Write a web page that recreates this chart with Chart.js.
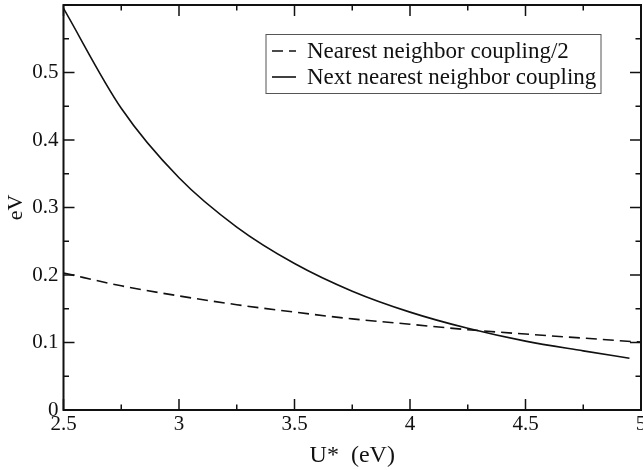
<!DOCTYPE html>
<html>
<head>
<meta charset="utf-8">
<script src="https://cdn.jsdelivr.net/npm/chart.js@4/dist/chart.umd.min.js"></script>
<style>
  html, body { margin: 0; padding: 0; background: #fff; overflow: hidden; }
  #wrap { width: 660px; height: 470px; position: relative; }
</style>
</head>
<body>
<div id="wrap"><canvas id="c"></canvas></div>
<script>
// ---- data ----
const nnU      = [2.5, 2.75, 3.0, 3.25, 3.5, 3.75, 4.0, 4.25, 4.5, 4.75, 5.0];
const nnValues = [0.203, 0.184, 0.169, 0.156, 0.145, 0.135, 0.127, 0.119, 0.1125, 0.1065, 0.1005];

const nnnU      = [2.5, 2.75, 3.0, 3.25, 3.5, 3.75, 4.0, 4.25, 4.5, 4.75, 4.95];
const nnnValues = [0.595, 0.447, 0.344, 0.271, 0.217, 0.176, 0.145, 0.121, 0.102, 0.0876, 0.0766];

const seriesLabels = ['Nearest neighbor coupling/2', 'Next nearest neighbor coupling'];
const xTickLabels = [2.5, 3, 3.5, 4, 4.5, 5];
const yTickLabels = [0, 0.1, 0.2, 0.3, 0.4, 0.5];
const xTitle = 'U*  (eV)';
const yTitle = 'eV';

const FONT = '"Liberation Serif", "Times New Roman", serif';

const framePlugin = {
  id: 'frame',
  afterDatasetsDraw(chart) {
    const ctx = chart.ctx;
    const { left, right, top, bottom } = chart.chartArea;
    const xs = chart.scales.x, ys = chart.scales.y;
    ctx.save();
    ctx.strokeStyle = '#111';
    ctx.lineWidth = 2;
    ctx.setLineDash([]);
    ctx.strokeRect(left, top, right - left, bottom - top);
    ctx.lineWidth = 1.5;
    // x ticks (major 0.5, minor 0.25)
    for (let i = 0; i <= 10; i++) {
      const v = xs.min + i * 0.25;
      const px = xs.getPixelForValue(v);
      const len = (i % 2 === 0) ? 11 : 5.5;
      ctx.beginPath();
      ctx.moveTo(px, bottom); ctx.lineTo(px, bottom - len);
      ctx.moveTo(px, top); ctx.lineTo(px, top + len);
      ctx.stroke();
    }
    // y ticks (major 0.1, minor 0.05)
    for (let i = 0; i <= 12; i++) {
      const v = i * 0.05;
      const py = ys.getPixelForValue(v);
      const len = (i % 2 === 0) ? 11 : 5.5;
      ctx.beginPath();
      ctx.moveTo(left, py); ctx.lineTo(left + len, py);
      ctx.moveTo(right, py); ctx.lineTo(right - len, py);
      ctx.stroke();
    }
    // legend box
    const bx = 266, by = 34.5, bw = 335, bh = 59;
    ctx.fillStyle = '#fff';
    ctx.fillRect(bx, by, bw, bh);
    ctx.strokeStyle = '#555';
    ctx.lineWidth = 1;
    ctx.strokeRect(bx, by, bw, bh);
    ctx.font = '23px ' + FONT;
    ctx.fillStyle = '#111';
    ctx.textBaseline = 'alphabetic';
    ctx.textAlign = 'left';
    const rows = [{ y: 57.5, dash: [11, 6] }, { y: 83.5, dash: [] }];
    chart.data.datasets.forEach((ds, i) => {
      const r = rows[i];
      ctx.strokeStyle = '#111';
      ctx.lineWidth = 1.6;
      ctx.setLineDash(r.dash);
      ctx.beginPath();
      ctx.moveTo(272, r.y - 6.5);
      ctx.lineTo(296, r.y - 6.5);
      ctx.stroke();
      ctx.setLineDash([]);
      ctx.fillText(ds.label, 307, r.y);
    });
    ctx.restore();
  }
};

new Chart(document.getElementById('c'), {
  type: 'line',
  data: {
    datasets: [
      {
        label: seriesLabels[0],
        data: nnU.map((u, i) => ({ x: u, y: nnValues[i] })),
        borderColor: '#111',
        borderWidth: 1.6,
        borderDash: [11, 6],
        pointRadius: 0,
        fill: false,
        cubicInterpolationMode: 'monotone'
      },
      {
        label: seriesLabels[1],
        data: nnnU.map((u, i) => ({ x: u, y: nnnValues[i] })),
        borderColor: '#111',
        borderWidth: 1.6,
        pointRadius: 0,
        fill: false,
        cubicInterpolationMode: 'monotone'
      }
    ]
  },
  options: {
    responsive: true,
    maintainAspectRatio: false,
    animation: false,
    layout: { padding: { top: 5, right: 19, left: 0, bottom: 0 } },
    plugins: { legend: { display: false }, tooltip: { enabled: false } },
    scales: {
      x: {
        type: 'linear',
        min: 2.5, max: 5,
        afterBuildTicks: (s) => { s.ticks = xTickLabels.map(v => ({ value: v })); },
        afterFit: (s) => { s.height = 60; s.paddingLeft = 0; s.paddingRight = 0; },
        grid: { display: false, drawTicks: false },
        border: { display: false },
        ticks: {
          color: '#111', padding: 2, maxRotation: 0, autoSkip: false,
          font: { family: FONT, size: 21 },
          callback: (v) => String(v)
        },
        title: {
          display: true, text: xTitle, color: '#111',
          font: { family: FONT, size: 24 }, padding: { top: 0, bottom: 0 }
        }
      },
      y: {
        type: 'linear',
        min: 0, max: 0.6,
        afterBuildTicks: (s) => { s.ticks = yTickLabels.map(v => ({ value: v })); },
        afterFit: (s) => { s.width = 63.5; s.paddingTop = 0; s.paddingBottom = 0; },
        grid: { display: false, drawTicks: false },
        border: { display: false },
        ticks: {
          color: '#111', padding: 5, autoSkip: false,
          font: { family: FONT, size: 21 },
          callback: (v) => String(v)
        },
        title: {
          display: true, text: yTitle, color: '#111',
          font: { family: FONT, size: 22 }, padding: { top: 3, bottom: 0 }
        }
      }
    }
  },
  plugins: [framePlugin]
});
</script>
</body>
</html>
